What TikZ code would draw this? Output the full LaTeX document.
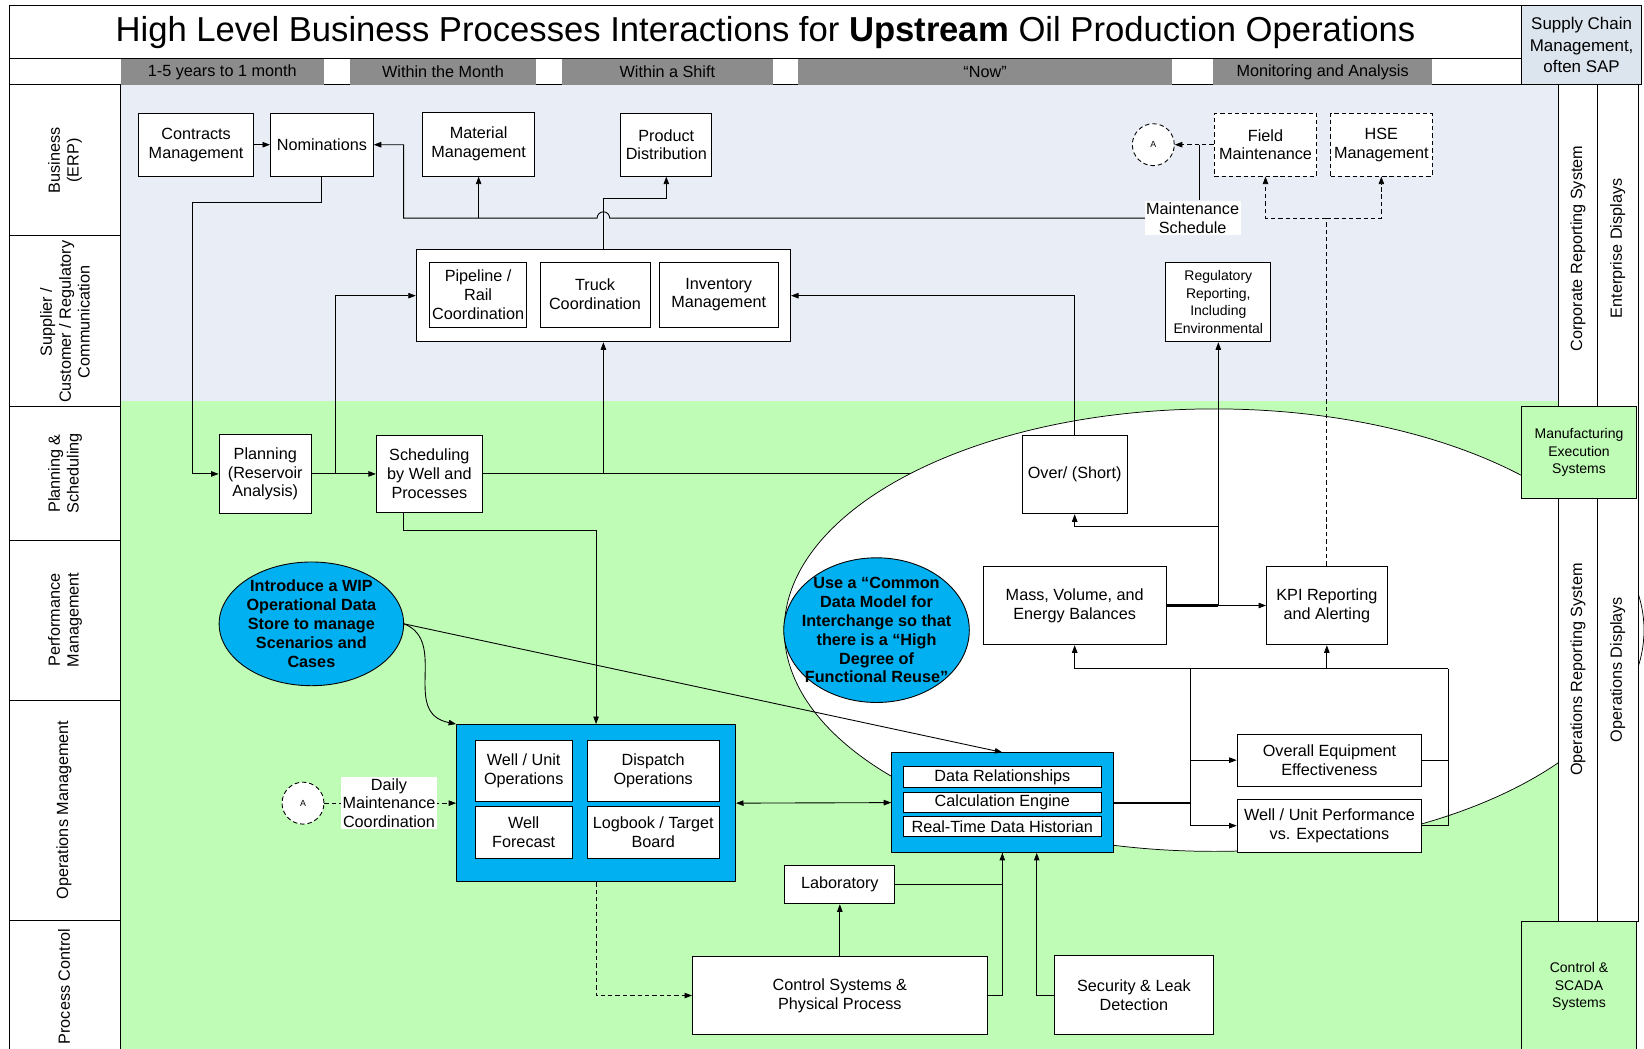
\documentclass[tikz,border=0pt]{standalone}
\usepackage{fontspec}
\setmainfont{Liberation Sans}
\usetikzlibrary{arrows.meta,shapes.geometric}

\definecolor{erpbg}{RGB}{233,237,245}
\definecolor{plantbg}{RGB}{191,252,181}
\definecolor{odsblue}{RGB}{0,176,240}
\definecolor{bargrey}{RGB}{140,140,140}
\definecolor{scmbg}{RGB}{220,228,238}

\def\bxfont{\fontsize{11}{12.8}\selectfont}
\def\smfont{\fontsize{9.5}{11.8}\selectfont}
\def\lanefont{\fontsize{11}{12.8}\selectfont}

\tikzset{
	box/.style={draw, fill=white, align=center, inner sep=1pt, font=\bxfont},
	sz/.style 2 args={minimum width=#1*0.25mm, minimum height=#2*0.25mm},
	arr/.style={->},
	darr/.style={->, densely dashed},
	lane/.style={rotate=90, align=center, font=\lanefont},
	bar/.style={fill=bargrey, inner sep=0pt, font=\bxfont},
	idea/.style={draw, ellipse, fill=odsblue, align=center, inner sep=-3mm, font=\bfseries\bxfont},
	conn/.style={draw, densely dashed, circle, fill=white, minimum size=10mm, inner sep=0pt, font=\fontsize{6}{7}\selectfont},
}

\begin{document}
\begin{tikzpicture}[x=0.25mm, y=-0.25mm, line width=0.6pt, >={Triangle[length=1.8mm,width=1.3mm]}]
			\useasboundingbox (0,0) rectangle (1568,1000);
			%%%%% START %%%%%
			
			% backgrounds
			\fill[erpbg] (115,81) rectangle (1486,382);
			\fill[plantbg] (115,382) rectangle (1486,1005);
			
			% title and time row
			\draw[fill=white] (9,5) rectangle (1451,56);
			\node (title) at (730,31) {\fontsize{23.5}{26}\selectfont High Level Business Processes Interactions for \textbf{Upstream} Oil Production Operations};
			\node[draw, fill=scmbg, align=center, sz={115}{76}, inner sep=1pt, font=\fontsize{11.5}{14.5}\selectfont] (scm) at (1508.5,43) {Supply Chain\\Management,\\often SAP};
			
			\draw[fill=white] (9,56) rectangle (1451,81);
			\node[bar, sz={194}{25}] (yrs) at (212,68.5) {1-5 years to 1 month};
			\node[bar, sz={177}{25}] (month) at (422.5,68.5) {Within the Month};
			\node[bar, sz={201}{25}] (shift) at (636.5,68.5) {Within a Shift};
			\node[bar, sz={357}{25}] (now) at (939.5,68.5) {“Now”};
			\node[bar, sz={209}{25}] (mon) at (1261.5,68.5) {Monitoring and Analysis};
			
			% lanes
			\draw[fill=white] (9,81) rectangle (115,1005);
			\foreach \y in {225,388,515,668,878}
				\draw (9,\y) -- (115,\y);
			\node[lane] (l1) at (62,153) {Business\\(ERP)};
			\node[lane] (l2) at (62,307) {Supplier /\\Customer / Regulatory\\Communication};
			\node[lane] (l3) at (62,451.5) {Planning \&\\Scheduling};
			\node[lane] (l4) at (62,591.5) {Performance\\Management};
			\node[lane] (l5) at (61,772.5) {Operations Management};
			\node[lane] (l6) at (61,941) {Process Control};
			
			% the big white field
			\draw[fill=white, line width=0.5pt] (1158,601) ellipse [x radius=102.5mm, y radius=52.75mm];
			
			% right columns
			\draw[fill=white] (1486,81) rectangle (1524,879);
			\draw[fill=white] (1524,81) rectangle (1563,879);
			\node[lane] (crs) at (1505,237) {Corporate Reporting System};
			\node[lane] (ed) at (1543,237) {Enterprise Displays};
			\node[lane] (ors) at (1505,638.5) {Operations Reporting System};
			\node[lane] (od) at (1543,638.5) {Operations Displays};
			\node[box, fill=plantbg, sz={110}{87}, font=\smfont] (mes) at (1506,431.5) {Manufacturing\\Execution\\Systems};
			\node[box, fill=plantbg, sz={110}{124}, font=\smfont] (scada) at (1506,941) {Control \&\\SCADA\\Systems};
			
			% business
			\node[box, sz={110}{60}] (cm) at (187,138) {Contracts\\Management};
			\node[box, sz={98}{60}] (nom) at (307,138) {Nominations};
			\node[box, sz={107}{61}] (mat) at (456.5,137.5) {Material\\Management};
			\node[box, sz={87}{60}] (prod) at (635.5,138) {Product\\Distribution};
			\node[box, densely dashed, sz={98}{60}] (fm) at (1207,138) {Field\\Maintenance};
			\node[box, densely dashed, sz={97}{60}] (hse) at (1317.5,138) {HSE\\Management};
			\node[conn] (acb) at (1100,138) {A};
			
			% supplier
			\node[box, sz={357}{88}] (grp) at (575.5,282) {};
			\node[box, sz={92}{62}] (pipe) at (456,281) {Pipeline /\\Rail\\Coordination};
			\node[box, sz={105}{62}] (truck) at (567.5,281) {Truck\\Coordination};
			\node[box, sz={113}{62}] (inv) at (685.5,281) {Inventory\\Management};
			\node[box, sz={100}{76}, font=\smfont] (reg) at (1162,288) {Regulatory\\Reporting,\\Including\\Environmental};
			
			% planning
			\node[box, sz={88}{75}] (plan) at (253,452) {Planning\\(Reservoir\\Analysis)};
			\node[box, sz={101}{74}] (sched) at (409.5,452) {Scheduling\\by Well and\\Processes};
			\node[box, sz={100}{75}] (over) at (1025,452.5) {Over/ (Short)};
			
			% performance
			\node[idea, sz={176}{118}] (wip) at (297,595) {Introduce a WIP\\Operational Data\\Store to manage\\Scenarios and\\Cases};
			\node[idea, sz={177}{138}] (cdm) at (836,601) {Use a “Common\\Data Model for\\Interchange so that\\there is a “High\\Degree of\\Functional Reuse”};
			\node[box, sz={175}{75}] (mass) at (1025,577.5) {Mass, Volume, and\\Energy Balances};
			\node[box, sz={115}{75}] (kpi) at (1265.5,577.5) {KPI Reporting\\and Alerting};
			
			% operations
			\node[draw, fill=odsblue, sz={266}{150}] (ops) at (568.5,766) {};
			\node[box, sz={93}{58}] (wuo) at (499.5,735) {Well / Unit\\Operations};
			\node[box, sz={126}{58}] (disp) at (623,735) {Dispatch\\Operations};
			\node[box, sz={93}{50}] (wf) at (499.5,794) {Well\\Forecast};
			\node[box, sz={126}{50}] (logb) at (623,794) {Logbook / Target\\Board};
			\node[conn] (aop) at (289,766) {A};
			
			\node[draw, fill=odsblue, sz={211}{95}] (hub) at (956,765.5) {};
			\node[box, sz={189}{20}, inner sep=0pt] (drel) at (956,741) {Data Relationships};
			\node[box, sz={189}{19}, inner sep=0pt] (calc) at (956,765.5) {Calculation Engine};
			\node[box, sz={189}{19}, inner sep=0pt] (rtdh) at (956,788.5) {Real-Time Data Historian};
			
			\node[box, sz={176}{50}] (oee) at (1268,725) {Overall Equipment\\Effectiveness};
			\node[box, sz={176}{51}] (wupe) at (1268,787.5) {Well / Unit Performance\\vs. Expectations};
			\node[box, sz={105}{37}] (lab) at (801,843.5) {Laboratory};
			
			% process control
			\node[box, sz={281}{75}] (ctrl) at (801,949.5) {Control Systems \&\\Physical Process};
			\node[box, sz={151}{75}] (sec) at (1081.5,949) {Security \& Leak\\Detection};
			
			% connectors, top
			\coordinate (bus) at (385,208);
			\coordinate (fmj) at (1144,138);
			\coordinate (kdj) at (1265.5,208);
			\draw[arr] (cm) -- (nom);
			\draw[arr] (1093,208) -- (581.5,208) arc[start angle=0, end angle=180, radius=1.5mm] -- (bus) |- (nom.east);
			\draw[arr] (mat.south |- bus) -- (mat.south);
			\draw[arr] (grp.north) -- ++(0,-48) -| (prod.south);
			\draw[darr] (fm.west) -- (acb.east);
			\draw (fmj) -- (1144,191);
			\node[fill=white, align=center, inner sep=1pt, font=\bxfont] (msched) at (1137.5,208) {Maintenance\\Schedule};
			\draw[densely dashed] (kpi.north) -- (kdj);
			\draw[darr] (kdj) -| (fm.south);
			\draw[darr] (kdj) -| (hse.south);
			
			% connectors, planning
			\coordinate (pj) at (320,452);
			\coordinate (ovl) at (867.7,452);
			\draw[arr] (nom.south) |- (184,193) |- (plan.west);
			\draw[arr] (plan.east) -- (sched.west);
			\draw[arr] (pj) |- (grp.west);
			\draw (sched.east) -- (ovl);
			\draw[arr] (sched.east -| grp.south) -- (grp.south);
			\draw[arr] (over.north) |- (grp.east);
			
			% connectors, balances
			\coordinate (mj) at (1162,577.5);
			\coordinate (oj) at (1162,502);
			\draw[line width=1.4pt] (mass.east) -- (mj);
			\draw[arr] (mj) -- (kpi.west);
			\draw[arr] (mj) -- (reg.south);
			\draw[arr] (oj) -| (over.south);
			
			\coordinate (hj) at (1135.5,765.5);
			\coordinate (rt) at (1381,638);
			\draw[line width=1.4pt] (hub.east) -- (hj);
			\draw (1135.5,638) -- (hj |- wupe.west);
			\draw[arr] (hj |- oee.west) -- (oee.west);
			\draw[arr] (hj |- wupe.west) -- (wupe.west);
			\draw (oee.east) -| (rt);
			\draw (wupe.east) -| (rt);
			\draw[arr] (rt) -| (mass.south);
			\draw[arr] (kpi.south |- rt) -- (kpi.south);
			
			% connectors, operations
			\draw[<->] (ops.east) -- (hub.west);
			\draw[darr] (aop.east) -- (ops.west);
			\node[fill=white, align=center, inner sep=1pt, font=\bxfont] (daily) at (371,766) {Daily\\Maintenance\\Coordination};
			\draw[arr] (wip.east) .. controls (428,612) and (382,680) .. (ops.north west);
			\draw[arr] (wip.east) -- (hub.north);
			\draw[arr] ([xshift=-6.1mm]sched.south) |- (568.5,506) -- (ops.north);
			\draw[darr] (ops.south) |- (ctrl.west);
			\draw[arr] (ctrl.north) -- (lab.south);
			\draw (lab.east) -| (hub.south);
			\draw[arr] (ctrl.east) -| (hub.south);
			\draw[arr] (sec.west) -| ([xshift=8.2mm]hub.south);
			
			%%%%% END %%%%%
		\end{tikzpicture}
\end{document}
